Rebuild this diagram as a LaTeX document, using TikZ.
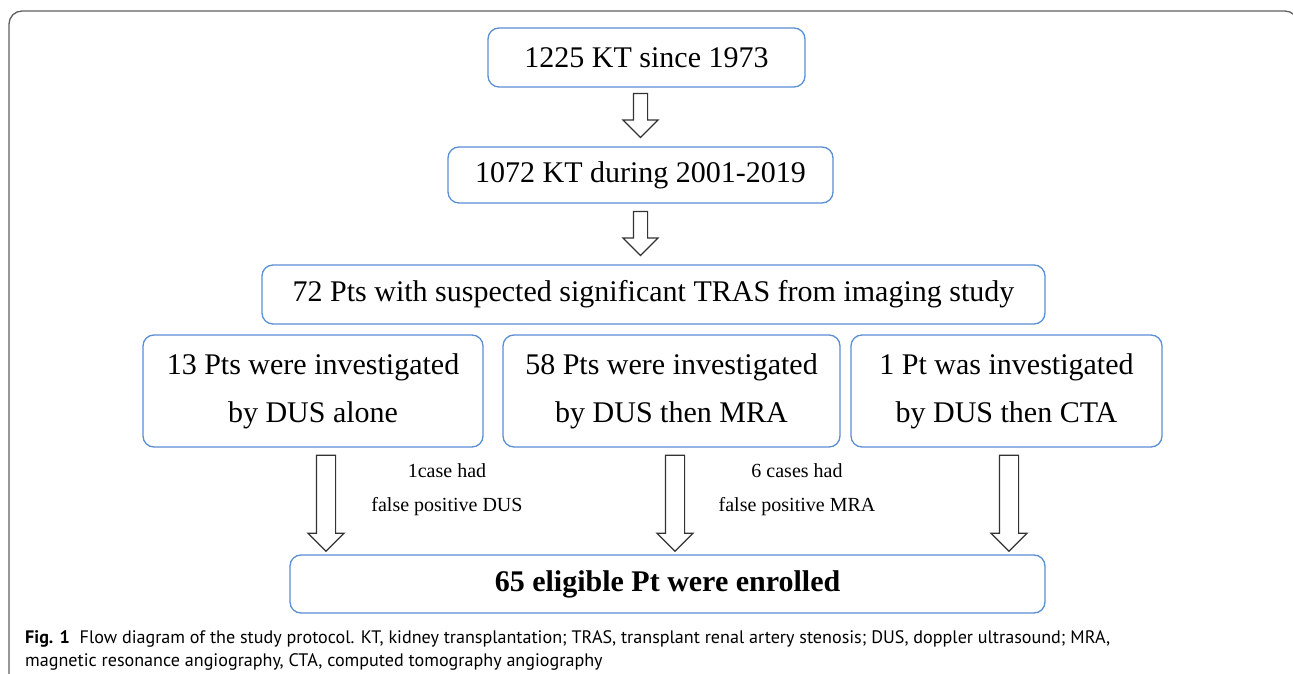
\documentclass[tikz,border=0pt]{standalone}
\usepackage{fontspec}
\setmainfont{Liberation Serif}
\newfontfamily\capfont{PT Sans}
\usetikzlibrary{shapes.arrows}
\definecolor{boxblue}{RGB}{91,142,213}
\definecolor{framegray}{RGB}{95,95,95}
\begin{document}
\begin{tikzpicture}[
  stage/.style={draw=boxblue,line width=1.3bp,rounded corners=11bp,inner sep=0pt,align=center,font=\fontsize{30bp}{48bp}\selectfont},
  flow/.style={draw=black!80,fill=white,line width=1.2bp,single arrow,rotate=-90,inner sep=0pt,single arrow tip angle=90},
  note/.style={align=center,font=\fontsize{20bp}{34bp}\selectfont},
  caption/.style={anchor=base west,inner sep=0pt,font=\capfont\fontsize{18.1bp}{23bp}\selectfont}]
  \useasboundingbox (0bp,0bp) rectangle (1293bp,674bp);
  \draw [framegray,line width=1.3bp,rounded corners=13bp] (9bp,-5bp) -- (9bp,663bp) -- (1298bp,663bp) -- (1298bp,600bp);
  \node (KTall) at (646.5bp,616.5bp) [stage,minimum width=317bp,minimum height=59bp] {1225 KT since 1973};
  \node (KTperiod) at (640.5bp,499bp) [stage,minimum width=385bp,minimum height=56bp] {1072 KT during 2001-2019};
  \node (TRAS) at (653.5bp,379.5bp) [stage,minimum width=783bp,minimum height=59bp] {72 Pts with suspected significant TRAS from imaging study};
  \node (DUS) at (313bp,283bp) [stage,minimum width=340bp,minimum height=112bp] {13 Pts were investigated\\by DUS alone};
  \node (MRA) at (671.5bp,283bp) [stage,minimum width=337bp,minimum height=112bp] {58 Pts were investigated\\by DUS then MRA};
  \node (CTA) at (1006.5bp,283bp) [stage,minimum width=311bp,minimum height=112bp] {1 Pt was investigated\\by DUS then CTA};
  \node (Enrolled) at (667.5bp,90bp) [stage,minimum width=755bp,minimum height=58bp] {\bfseries 65 eligible Pt were enrolled};
  \node (ArrowA) at (640.5bp,562bp) [flow,minimum height=44bp,single arrow head extend=10.5bp] {\rule{0pt}{13bp}};
  \node (ArrowB) at (640.5bp,444bp) [flow,minimum height=44bp,single arrow head extend=10.5bp] {\rule{0pt}{13bp}};
  \node (ArrowDUS) at (326bp,175.5bp) [flow,minimum height=96bp,single arrow head extend=8.5bp] {\rule{0pt}{18bp}};
  \node (ArrowMRA) at (675bp,175.5bp) [flow,minimum height=96bp,single arrow head extend=8.5bp] {\rule{0pt}{18bp}};
  \node (ArrowCTA) at (1009bp,175.5bp) [flow,minimum height=96bp,single arrow head extend=8.5bp] {\rule{0pt}{18bp}};
  \node (FalseDUS) at (447bp,184bp) [note] {1case had\\false positive DUS};
  \node (FalseMRA) at (797bp,184bp) [note] {6 cases had\\false positive MRA};
  \node (CapA) at (25bp,31bp) [caption] {\textbf{Fig. 1}\hspace{0.55em}Flow diagram of the study protocol. KT, kidney transplantation; TRAS, transplant renal artery stenosis; DUS, doppler ultrasound; MRA,};
  \node (CapB) at (25bp,8bp) [caption] {magnetic resonance angiography, CTA, computed tomography angiography};
\end{tikzpicture}
\end{document}
